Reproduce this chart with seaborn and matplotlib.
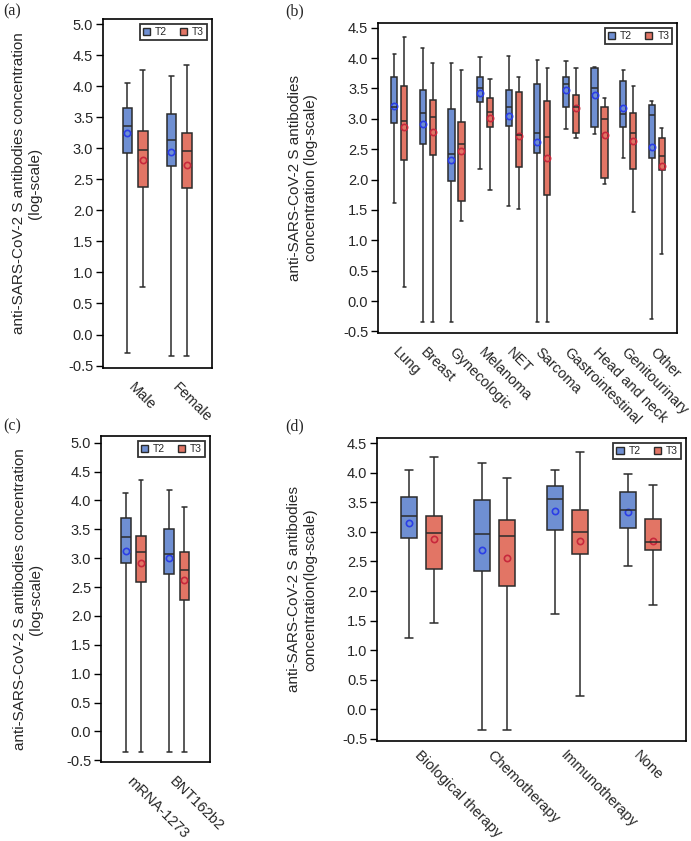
import numpy as np
import pandas as pd
import matplotlib
matplotlib.use('Agg')
import matplotlib.pyplot as plt
import seaborn as sns
from matplotlib.patches import Patch

# ==================== DONNEES ====================
# chaque boite : [min, Q1, mediane, Q3, max]

sex_cats = ['Male', 'Female']
sex_t2 = [[-0.29, 2.93, 3.36, 3.65, 4.06], [-0.35, 2.71, 3.14, 3.56, 4.17]]
sex_t3 = [[0.77, 2.37, 2.97, 3.28, 4.27], [-0.35, 2.36, 2.95, 3.24, 4.34]]
sex_t2_mean = [3.24, 2.94]
sex_t3_mean = [2.81, 2.73]

tumor_cats = ['Lung', 'Breast', 'Gynecologic', 'Melanoma', 'NET', 'Sarcoma',
              'Gastrointestinal', 'Head and neck', 'Genitourinary', 'Other']
tumor_t2 = [[1.61, 2.93, 3.20, 3.68, 4.06],
            [-0.35, 2.58, 3.10, 3.47, 4.17],
            [-0.35, 1.98, 2.42, 3.16, 3.92],
            [2.17, 3.27, 3.51, 3.69, 4.02],
            [1.56, 2.88, 3.20, 3.47, 4.04],
            [-0.35, 2.43, 2.77, 3.57, 3.96],
            [2.84, 3.20, 3.57, 3.69, 3.95],
            [2.75, 2.86, 3.51, 3.84, 3.85],
            [2.35, 2.87, 3.08, 3.63, 3.80],
            [-0.30, 2.35, 3.07, 3.22, 3.30]]
tumor_t3 = [[0.23, 2.33, 2.97, 3.54, 4.35],
            [-0.35, 2.40, 3.03, 3.31, 3.92],
            [1.32, 1.64, 2.58, 2.95, 3.81],
            [1.83, 2.87, 3.11, 3.35, 3.65],
            [1.52, 2.20, 2.73, 3.44, 3.68],
            [-0.35, 1.75, 2.70, 3.30, 3.83],
            [2.68, 2.77, 3.19, 3.39, 3.83],
            [1.93, 2.02, 2.99, 3.19, 3.35],
            [1.46, 2.17, 2.76, 3.10, 3.54],
            [0.77, 2.16, 2.39, 2.69, 2.85]]
tumor_t2_mean = [3.21, 2.91, 2.33, 3.42, 3.05, 2.61, 3.48, 3.39, 3.17, 2.53]
tumor_t3_mean = [2.86, 2.78, 2.47, 3.01, 2.71, 2.35, 3.17, 2.74, 2.64, 2.23]

vacc_cats = ['mRNA-1273', 'BNT162b2']
vacc_t2 = [[-0.36, 2.91, 3.37, 3.70, 4.13], [-0.36, 2.72, 3.08, 3.50, 4.18]]
vacc_t3 = [[-0.36, 2.59, 3.11, 3.38, 4.35], [-0.36, 2.28, 2.79, 3.11, 3.88]]
vacc_t2_mean = [3.12, 3.00]
vacc_t3_mean = [2.91, 2.63]

ther_cats = ['Biological therapy', 'Chemotherapy', 'Immunotherapy', 'None']
ther_t2 = [[1.20, 2.89, 3.26, 3.59, 4.04],
           [-0.35, 2.33, 2.96, 3.54, 4.16],
           [1.61, 3.03, 3.55, 3.78, 4.05],
           [2.43, 3.06, 3.37, 3.68, 3.98]]
ther_t3 = [[1.46, 2.37, 2.98, 3.27, 4.27],
           [-0.35, 2.08, 2.93, 3.20, 3.91],
           [0.23, 2.63, 2.99, 3.37, 4.34],
           [1.76, 2.70, 2.82, 3.22, 3.79]]
ther_t2_mean = [3.15, 2.70, 3.36, 3.34]
ther_t3_mean = [2.88, 2.56, 2.85, 2.84]

TIMES = ['T2', 'T3']
BOX_COLORS = {'T2': '#6f8fd2', 'T3': '#e27565'}
MEAN_COLORS = {'T2': '#2b3ee6', 'T3': '#c8283c'}


def box_frame(cats, t2, t3):
    rows = []
    for cat, s2, s3 in zip(cats, t2, t3):
        for v in s2:
            rows.append((cat, 'T2', v))
        for v in s3:
            rows.append((cat, 'T3', v))
    return pd.DataFrame(rows, columns=['cat', 'time', 'value'])


def mean_frame(cats, m2, m3):
    rows = [(c, 'T2', v) for c, v in zip(cats, m2)] + [(c, 'T3', v) for c, v in zip(cats, m3)]
    return pd.DataFrame(rows, columns=['cat', 'time', 'value'])


def draw_panel(ax, cats, t2, t3, m2, m3, ylim, yticks, xlim, ylabel, label_xy, xpad=9):
    df = box_frame(cats, t2, t3)
    sns.boxplot(data=df, x='cat', y='value', hue='time', order=cats, hue_order=TIMES,
                palette=BOX_COLORS, width=0.7, gap=0.37, whis=(0, 100),
                linecolor='#2b2b2b', linewidth=1.1, showfliers=False, saturation=1,
                legend=False, ax=ax)
    mdf = mean_frame(cats, m2, m3)
    sns.pointplot(data=mdf, x='cat', y='value', hue='time', order=cats, hue_order=TIMES,
                  palette=MEAN_COLORS, dodge=0.35, linestyle='none', markers='o',
                  markersize=4.5, markerfacecolor='none', markeredgewidth=1.2,
                  errorbar=None, legend=False, ax=ax)

    ax.set_ylim(*ylim)
    ax.set_xlim(*xlim)
    ax.set_yticks(yticks)
    ax.set_yticklabels([f'{t:.1f}' for t in yticks])
    ax.set_xlabel('')
    ax.set_ylabel(ylabel, fontsize=11, linespacing=1.15)
    ax.yaxis.set_label_coords(*label_xy)
    ax.tick_params(axis='y', left=True, length=5, width=1, color='black', labelsize=10.5, pad=2)
    ax.tick_params(axis='x', bottom=False, length=0, labelsize=10.5, pad=xpad)
    plt.setp(ax.get_xticklabels(), rotation=-45, ha='left', rotation_mode='anchor')
    for sp in ax.spines.values():
        sp.set_visible(True)
        sp.set_color('black')
        sp.set_linewidth(1.2)

    handles = [Patch(facecolor=BOX_COLORS[t], edgecolor='#2b2b2b', linewidth=1) for t in TIMES]
    leg = ax.legend(handles, TIMES, ncol=2, loc='upper right', fontsize=7.5, frameon=True,
                    fancybox=False, edgecolor='black', handlelength=0.7, handleheight=0.7,
                    handletextpad=0.5, columnspacing=1.2, borderpad=0.3, borderaxespad=0.45)
    leg.get_frame().set_linewidth(1.3)


sns.set_style('white')
plt.rcParams['font.family'] = ['Liberation Sans', 'DejaVu Sans']

fig = plt.figure(figsize=(6.91, 8.41), dpi=100)

ax_a = fig.add_axes([0.149, 0.5624, 0.158, 0.415])
ax_b = fig.add_axes([0.547, 0.604, 0.433, 0.3686])
ax_c = fig.add_axes([0.146, 0.0939, 0.158, 0.3876])
ax_d = fig.add_axes([0.5456, 0.1189, 0.447, 0.3603])

ticks_5 = np.arange(-0.5, 5.01, 0.5)
ticks_45 = np.arange(-0.5, 4.51, 0.5)

draw_panel(ax_a, sex_cats, sex_t2, sex_t3, sex_t2_mean, sex_t3_mean,
           (-0.54, 5.085), ticks_5, (-0.73, 1.75),
           'anti-SARS-CoV-2 S antibodies concentration\n(log-scale)', (-0.56, 0.53))
draw_panel(ax_b, tumor_cats, tumor_t2, tumor_t3, tumor_t2_mean, tumor_t3_mean,
           (-0.526, 4.576), ticks_45, (-0.74, 9.71),
           'anti-SARS-CoV-2 S antibodies\nconcentration (log-scale)', (-0.20, 0.5))
draw_panel(ax_c, vacc_cats, vacc_t2, vacc_t3, vacc_t2_mean, vacc_t3_mean,
           (-0.53, 5.116), ticks_5, (-0.75, 1.77),
           'anti-SARS-CoV-2 S antibodies concentration\n(log-scale)', (-0.53, 0.5))
draw_panel(ax_d, ther_cats, ther_t2, ther_t3, ther_t2_mean, ther_t3_mean,
           (-0.534, 4.585), ticks_45, (-0.61, 3.62),
           'anti-SARS-CoV-2 S antibodies\nconcentration(log-scale)', (-0.194, 0.5), xpad=5)

serif = ['Liberation Serif', 'DejaVu Serif']
fig.text(3 / 691, 1 - 11 / 841, '(a)', family=serif, fontsize=11.5, va='center', ha='left')
fig.text(285 / 691, 1 - 11 / 841, '(b)', family=serif, fontsize=11.5, va='center', ha='left')
fig.text(3 / 691, 1 - 426 / 841, '(c)', family=serif, fontsize=11.5, va='center', ha='left')
fig.text(285 / 691, 1 - 426 / 841, '(d)', family=serif, fontsize=11.5, va='center', ha='left')

fig.savefig('out.png', dpi=100)
plt.close(fig)
